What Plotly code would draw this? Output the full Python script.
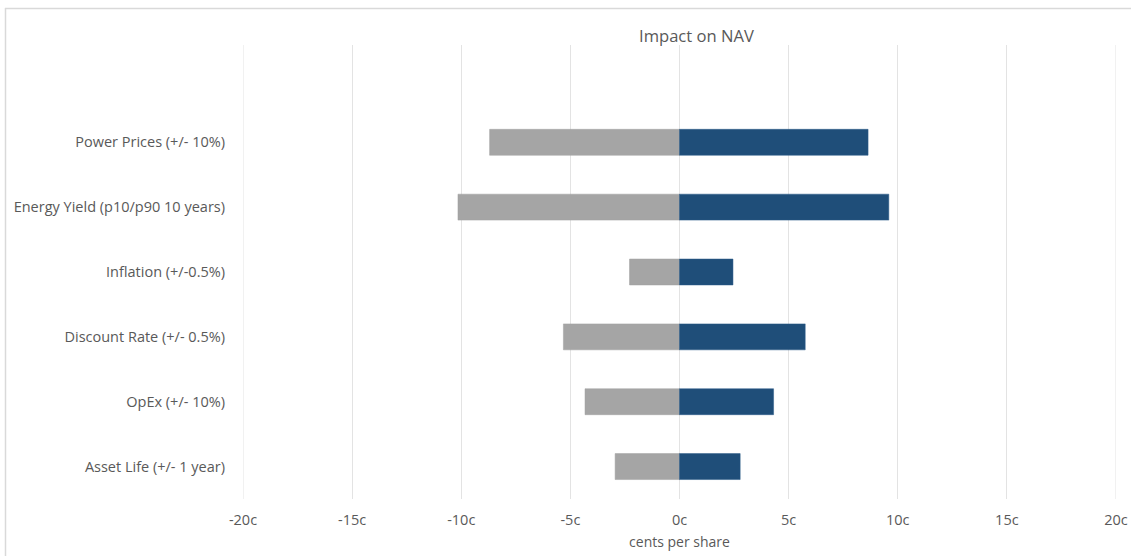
import plotly.graph_objects as go

categories = ["Asset Life (+/- 1 year)", "OpEx (+/- 10%)", "Discount Rate (+/- 0.5%)",
              "Inflation (+/-0.5%)", "Energy Yield (p10/p90 10 years)", "Power Prices (+/- 10%)"]
downside = [-2.95, -4.33, -5.32, -2.29, -10.15, -8.70]
upside = [2.78, 4.31, 5.76, 2.45, 9.59, 8.64]
x_ticks = [-20, -15, -10, -5, 0, 5, 10, 15, 20]
x_ticklabels = ["-20c", "-15c", "-10c", "-5c", "0c", "5c", "10c", "15c", "20c"]
x_min, x_max = -20, 20

W, H = 1131, 556
ML, MR, MT, MB = 243, 15, 45, 57
pw, ph = W - ML - MR, H - MT - MB

ypos = list(range(len(categories)))
txt = "#595959"
grid = "#e3e3e3"
font = "Open Sans"

fig = go.Figure()
fig.add_trace(go.Bar(y=ypos, x=downside, orientation="h", width=0.4,
                     marker=dict(color="#a5a5a5", line=dict(color="#a0a0a0", width=0.5)),
                     showlegend=False))
fig.add_trace(go.Bar(y=ypos, x=upside, orientation="h", width=0.4,
                     marker=dict(color="#1f4e79", line=dict(color="#2a5a88", width=0.5)),
                     showlegend=False))

def px_x(p):
    return (p - ML) / pw

def px_y(p):
    return (H - MB - p) / ph

edge_lines = [dict(type="line", xref="x", yref="paper", x0=v, x1=v, y0=0, y1=1,
                   line=dict(color=grid, width=1), layer="below")
              for v in (x_min, x_max)]

fig.update_layout(
    width=W, height=H,
    margin=dict(l=ML, r=MR, t=MT, b=MB, autoexpand=False),
    barmode="relative",
    plot_bgcolor="white", paper_bgcolor="white",
    font=dict(family=font, color=txt, size=14.5),
    xaxis=dict(range=[x_min, x_max], tickvals=x_ticks, ticktext=x_ticklabels,
               showgrid=True, gridcolor=grid, gridwidth=1,
               zeroline=True, zerolinecolor=grid, zerolinewidth=1,
               showline=False, ticks="", ticklabelstandoff=10,
               tickfont=dict(size=14.5, color=txt),
               title=dict(text="cents per share", font=dict(size=14, color=txt), standoff=9)),
    yaxis=dict(range=[-0.5, 6.5], tickvals=ypos, ticktext=categories,
               showgrid=False, zeroline=False, showline=False, ticks="",
               ticklabelstandoff=17, tickfont=dict(size=14.5, color=txt)),
    annotations=[dict(text="Impact on NAV", xref="paper", yref="paper",
                      x=px_x(696), y=px_y(35), xanchor="center", yanchor="middle",
                      showarrow=False, font=dict(size=16.6, color=txt, family=font))],
    shapes=edge_lines + [
        dict(type="line", xref="paper", yref="paper", x0=px_x(5), x1=px_x(1140),
             y0=px_y(8.5), y1=px_y(8.5), line=dict(color="#d9d9d9", width=1.5)),
        dict(type="line", xref="paper", yref="paper", x0=px_x(5.5), x1=px_x(5.5),
             y0=px_y(8), y1=px_y(570), line=dict(color="#d9d9d9", width=1.5)),
    ],
)

fig.write_html("out.html")
